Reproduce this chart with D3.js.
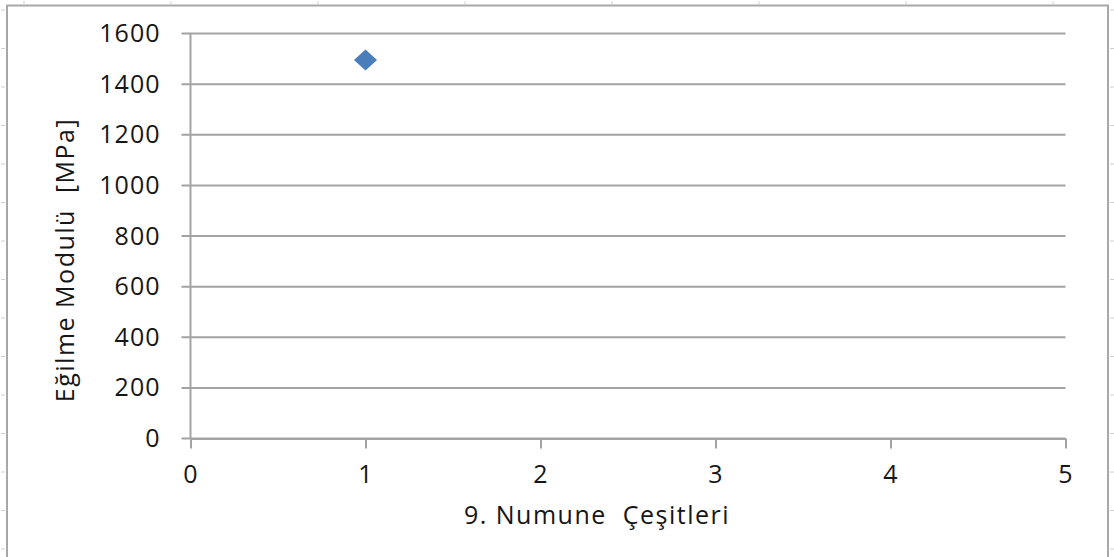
<!DOCTYPE html>
<html>
<head>
<meta charset="utf-8">
<script src="https://cdn.jsdelivr.net/npm/d3@7"></script>
<style>
  html, body { margin: 0; padding: 0; background: #fff; }
  svg { display: block; }
  text { font-family: "Open Sans", sans-serif; fill: #161616; }
</style>
</head>
<body>
<svg id="chart" width="1114" height="557"></svg>
<script>
// Sample types and measured flexural modulus
const samples = [1];
const modulus = [1495];
const xTicks = [0, 1, 2, 3, 4, 5];
const yTicks = [0, 200, 400, 600, 800, 1000, 1200, 1400, 1600];
const xTitle = "9. Numune  Çeşitleri";
const yTitle = "Eğilme Modulü  [MPa]";

const svg = d3.select("#chart");
const W = 1114, H = 557;
const fontSize = 25;

// Plot frame
const plotL = 190.5, plotR = 1065.5, plotT = 33.5, plotB = 438.5;
const x = d3.scaleLinear().domain([0, 5]).range([plotL, plotR]);
const y = d3.scaleLinear().domain([0, 1600]).range([plotB, plotT]);

const gridColor = "#a3a3a3";

// Outer chart border with small worksheet ticks outside it
svg.append("path")
  .attr("d", `M7,${H} V5.5 H1108 V${H}`)
  .attr("fill", "none").attr("stroke", "#a8a8a8").attr("stroke-width", 2);

const colMarks = d3.range(8).map(i => 24 + i * 147);
svg.append("g").selectAll("line").data(colMarks).join("line")
  .attr("x1", d => d).attr("x2", d => d).attr("y1", 1).attr("y2", 4)
  .attr("stroke", "#d0d0d0").attr("stroke-width", 1);
const rowMarks = d3.range(15).map(i => 10 + i * 38.5);
svg.append("g").selectAll("line").data(rowMarks).join("line")
  .attr("x1", 1).attr("x2", 5).attr("y1", d => d).attr("y2", d => d)
  .attr("stroke", "#d0d0d0").attr("stroke-width", 1);
svg.append("g").selectAll("line").data(rowMarks).join("line")
  .attr("x1", 1110).attr("x2", 1114).attr("y1", d => d).attr("y2", d => d)
  .attr("stroke", "#d0d0d0").attr("stroke-width", 1);

// Horizontal gridlines (extend over the tick length on the left)
svg.append("g").selectAll("line").data(yTicks).join("line")
  .attr("x1", plotL - 9).attr("x2", plotR)
  .attr("y1", d => y(d)).attr("y2", d => y(d))
  .attr("stroke", gridColor).attr("stroke-width", 2);

// Y axis line
svg.append("line")
  .attr("x1", plotL).attr("x2", plotL).attr("y1", plotT).attr("y2", plotB)
  .attr("stroke", gridColor).attr("stroke-width", 2);

function styleLabels(sel) {
  sel.attr("font-size", fontSize)
    .attr("font-family", "Open Sans, sans-serif")
    .attr("letter-spacing", 1)
    .attr("fill", "#161616");
}

// X axis with downward ticks
const xAxis = d3.axisBottom(x).tickValues(xTicks).tickSize(10).tickSizeOuter(0).tickPadding(17)
  .tickFormat(d3.format("d"));
const gx = svg.append("g").attr("transform", `translate(0,${plotB})`).call(xAxis);
gx.select(".domain").attr("stroke", gridColor).attr("stroke-width", 2);
gx.selectAll(".tick line").attr("stroke", gridColor).attr("stroke-width", 2);
gx.selectAll(".tick text").call(styleLabels);

// Y axis labels
const yAxis = d3.axisLeft(y).tickValues(yTicks).tickSize(0).tickPadding(30)
  .tickFormat(d3.format("d"));
const gy = svg.append("g").attr("transform", `translate(${plotL},0)`).call(yAxis);
gy.select(".domain").remove();
gy.selectAll(".tick text").call(styleLabels);

// Data point: diamond marker
const diamond = d3.symbol().type(d3.symbolDiamond2).size(280);
svg.append("g").selectAll("path").data(samples.map((s, i) => [s, modulus[i]])).join("path")
  .attr("d", diamond)
  .attr("transform", d => `translate(${x(d[0])},${y(d[1])}) scale(1.1,1)`)
  .attr("fill", "#4a7ebb");

// Axis titles
svg.append("text")
  .attr("x", 597).attr("y", 524)
  .attr("text-anchor", "middle").attr("font-size", fontSize)
  .attr("letter-spacing", 1.5)
  .style("white-space", "pre")
  .text(xTitle);
svg.append("text")
  .attr("transform", "translate(74,260) rotate(-90)")
  .attr("text-anchor", "middle").attr("font-size", fontSize)
  .attr("letter-spacing", 1.5)
  .style("white-space", "pre")
  .text(yTitle);
</script>
</body>
</html>
